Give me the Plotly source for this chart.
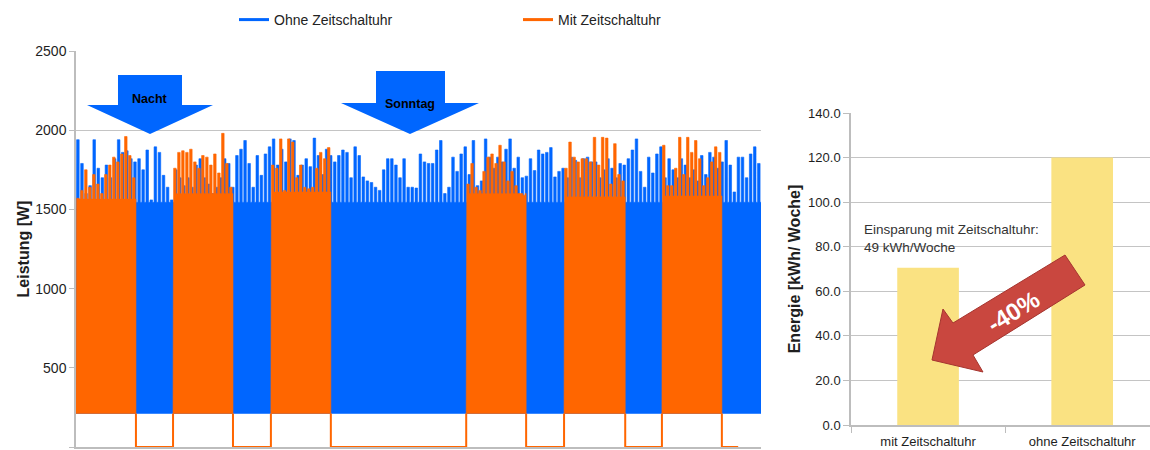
import plotly.graph_objects as go

# ---------------- data ----------------
week_hours = 168
standby_w = 212            # lower edge of the switching band [W]
blue_plateau = 1545        # solid upper level of the "ohne" band [W]

# hourly peak power, "Ohne Zeitschaltuhr" [W], one list per day
blue_d1 = [1940, 1790, 1600, 1650, 1940, 1760, 1700, 1780, 1700, 1820, 1940, 1860,
           1870, 1820, 1800, 1820, 1750, 1875, 1560, 1895, 1860, 1715, 1640, 1560]
blue_d2 = [1750, 1700, 1650, 1700, 1640, 1780, 1820, 1700, 1660, 1600, 1640, 1700,
           1820, 1790, 1640, 1840, 1880, 1935, 1790, 1640, 1840, 1715, 1850, 1895]
blue_d3 = [1945, 1780, 1880, 1800, 1945, 1935, 1715, 1780, 1820, 1770, 1950, 1840,
           1720, 1880, 1840, 1800, 1840, 1875, 1860, 1700, 1895, 1840, 1705, 1680]
blue_d4 = [1670, 1640, 1620, 1750, 1820, 1820, 1780, 1700, 1820, 1640, 1640, 1635,
           1850, 1800, 1790, 1790, 1875, 1935, 1600, 1640, 1830, 1740, 1850, 1895]
blue_d5 = [1720, 1935, 1650, 1680, 1945, 1830, 1760, 1830, 1800, 1880, 1945, 1760,
           1830, 1700, 1710, 1820, 1745, 1875, 1850, 1860, 1890, 1705, 1740, 1760]
blue_d6 = [1700, 1830, 1810, 1700, 1820, 1830, 1800, 1800, 1700, 1750, 1820, 1760,
           1700, 1790, 1780, 1820, 1875, 1945, 1740, 1640, 1830, 1730, 1850, 1895]
blue_d7 = [1700, 1820, 1750, 1700, 1820, 1780, 1700, 1750, 1680, 1840, 1720, 1860,
           1830, 1760, 1800, 1935, 1780, 1610, 1830, 1830, 1700, 1850, 1895, 1790]

# "Mit Zeitschaltuhr": switch-on / switch-off times [h] and peaks per on-period [W]
orange_on = [0.0, 23.8, 47.8, 95.7, 119.7, 143.7]
orange_off = [14.7, 38.5, 62.5, 110.4, 134.7, 158.4]
orange_end = 162.4
orange_plateau = [1565, 1600, 1610, 1600, 1580, 1585]
orange_s1 = [1570, 1620, 1750, 1640, 1720, 1660, 1600, 1720, 1780, 1830, 1800, 1850, 1960, 1840, 1700]
orange_s2 = [1760, 1860, 1870, 1860, 1880, 1800, 1760, 1840, 1830, 1780, 1850, 1730, 1980, 1790, 1640]
orange_s3 = [1780, 1760, 1945, 1620, 1945, 1925, 1700, 1780, 1640, 1630, 1640, 1760, 1860, 1820, 1890]
orange_s4 = [1660, 1790, 1640, 1620, 1740, 1830, 1850, 1790, 1905, 1800, 1680, 1740, 1650, 1600, 1590]
orange_s5 = [1760, 1925, 1830, 1800, 1820, 1820, 1800, 1955, 1780, 1955, 1950, 1660, 1915, 1720, 1680]
orange_s6 = [1905, 1650, 1650, 1760, 1955, 1720, 1955, 1860, 1935, 1820, 1650, 1700, 1800, 1895, 1860]

power_ticks = [0, 500, 1000, 1500, 2000, 2500]

bar_categories = ["mit Zeitschaltuhr", "ohne Zeitschaltuhr"]
bar_energy = [70.6, 120.0]

# ---------------- styling ----------------
W, H = 1150, 450
BLUE = "#0066FF"
ORANGE = "#FF6600"
GRID = "#C4C4C4"
AXIS = "#BDBDBD"
TXT = "#1e1e1e"
FONT = "Liberation Sans, Arial, sans-serif"

# plot areas in pixels (left, right, top, bottom)
L1 = (76, 761, 51, 447)
L2 = (851, 1150, 113, 425)


def X(px):
    return px / W


def Y(py):
    return 1 - py / H


def band(x0, x1, peaks, plateau, low):
    """Closed outline of a rapidly switching load: floor, plateau and spikes."""
    step = (x1 - x0) / len(peaks)
    xs, ys = [x0, x0], [low, plateau]
    for k, p in enumerate(peaks):
        a = x0 + k * step
        xs += [a + 0.15 * step, a + 0.15 * step, a + 0.78 * step, a + 0.78 * step]
        ys += [plateau, p, p, plateau]
    xs += [x1, x1, x0]
    ys += [plateau, low, low]
    return xs, ys


fig = go.Figure()

blue_peaks = blue_d1 + blue_d2 + blue_d3 + blue_d4 + blue_d5 + blue_d6 + blue_d7
bx, by = band(0, week_hours, blue_peaks, blue_plateau, standby_w)
fig.add_trace(go.Scatter(x=bx, y=by, mode="lines", fill="toself", fillcolor=BLUE,
                         line=dict(width=0.6, color=BLUE), showlegend=False,
                         hoverinfo="skip", xaxis="x", yaxis="y"))

orange_segments = [orange_s1, orange_s2, orange_s3, orange_s4, orange_s5, orange_s6]
ox, oy = [], []
for on, off, pl, seg in zip(orange_on, orange_off, orange_plateau, orange_segments):
    sx, sy = band(on, off, seg, pl, standby_w)
    ox += sx + [None]
    oy += sy + [None]
fig.add_trace(go.Scatter(x=ox, y=oy, mode="lines", fill="toself", fillcolor=ORANGE,
                         line=dict(width=0.6, color=ORANGE), showlegend=False,
                         hoverinfo="skip", xaxis="x", yaxis="y"))

# switched-off periods (0 W)
lx, ly = [], []
for i, off in enumerate(orange_off):
    nxt = orange_on[i + 1] if i + 1 < len(orange_on) else None
    if nxt is not None:
        lx += [off, off, nxt, nxt, None]
        ly += [standby_w, 0, 0, standby_w, None]
    else:
        lx += [off, off, orange_end, None]
        ly += [standby_w, 0, 0, None]
fig.add_trace(go.Scatter(x=lx, y=ly, mode="lines", line=dict(color=ORANGE, width=2),
                         showlegend=False, hoverinfo="skip", xaxis="x", yaxis="y"))

# legend entries
fig.add_trace(go.Scatter(x=[None], y=[None], mode="lines", name="Ohne Zeitschaltuhr",
                         line=dict(color=BLUE, width=3), xaxis="x", yaxis="y"))
fig.add_trace(go.Scatter(x=[None], y=[None], mode="lines", name="Mit Zeitschaltuhr",
                         line=dict(color=ORANGE, width=3), xaxis="x", yaxis="y"))

# energy bars
fig.add_trace(go.Bar(x=bar_categories, y=bar_energy, width=0.4,
                     marker=dict(color="#FAE282", line=dict(width=0)),
                     showlegend=False, hoverinfo="skip", xaxis="x2", yaxis="y2"))


def poly(points, area):
    """SVG path in subplot-domain units from pixel points of the reference."""
    l, r, t, b = area
    return "M " + " L ".join(f"{(a - l) / (r - l):.5f},{(b - c) / (b - t):.5f}"
                             for a, c in points) + " Z"


shapes = [
    dict(type="path", xref="x domain", yref="y domain", layer="above",
         path=poly([(118, 75), (182, 75), (182, 105), (213, 105), (150, 134), (87, 105), (118, 105)], L1),
         fillcolor=BLUE, line=dict(width=0)),
    dict(type="path", xref="x domain", yref="y domain", layer="above",
         path=poly([(376, 71), (445, 71), (445, 103), (479, 103), (410, 134), (341, 103), (376, 103)], L1),
         fillcolor=BLUE, line=dict(width=0)),
    dict(type="path", xref="x2 domain", yref="y2 domain", layer="above",
         path=poly([(1065, 255), (1085, 285), (973, 355), (983, 372), (932, 360), (943, 309), (953, 323)], L2),
         fillcolor="#C9473F", line=dict(width=1, color="#A5352F")),
]

annotations = [
    dict(xref="paper", yref="paper", x=X(150), y=Y(99), xanchor="center", yanchor="middle",
         text="<b>Nacht</b>", showarrow=False,
         font=dict(size=12.5, color="#000000", family=FONT)),
    dict(xref="paper", yref="paper", x=X(410), y=Y(104), xanchor="center", yanchor="middle",
         text="<b>Sonntag</b>", showarrow=False,
         font=dict(size=12.5, color="#000000", family=FONT)),
    dict(xref="paper", yref="paper", x=X(862), y=Y(220), xanchor="left", yanchor="top", align="left",
         text="Einsparung mit Zeitschaltuhr:<br>49 kWh/Woche", showarrow=False,
         font=dict(size=13.5, color="#333333", family=FONT)),
    dict(xref="paper", yref="paper", x=X(1013), y=Y(311), xanchor="center", yanchor="middle",
         text="<b>-40%</b>", showarrow=False,
         textangle=-31.6, font=dict(size=24, color="#FFFFFF", family=FONT)),
]

fig.update_layout(
    width=W, height=H,
    margin=dict(l=0, r=0, t=0, b=0, autoexpand=False),
    paper_bgcolor="white", plot_bgcolor="white",
    font=dict(family=FONT, color=TXT, size=14),
    showlegend=True,
    legend=dict(orientation="h", x=X(234), y=Y(20), xanchor="left", yanchor="middle",
                font=dict(size=14, color="#222222", family=FONT),
                entrywidth=239, entrywidthmode="pixels", bgcolor="rgba(0,0,0,0)"),
    xaxis=dict(domain=[X(L1[0]), X(L1[1])], range=[0, week_hours], showticklabels=False,
               ticks="", showgrid=False, zeroline=False, showline=True, automargin=False,
               linecolor=AXIS, linewidth=1.5, fixedrange=True),
    yaxis=dict(domain=[Y(L1[3]), Y(L1[2])], range=[0, 2500], tickvals=power_ticks,
               showgrid=True, gridcolor=GRID, gridwidth=1.3, zeroline=False, automargin=False,
               showline=True, linecolor=AXIS, linewidth=1.5, ticks="outside", ticklen=5,
               tickcolor=AXIS, tickfont=dict(size=14, color=TXT),
               title=dict(text="<b>Leistung [W]</b>", standoff=2,
                          font=dict(size=16, color=TXT)),
               fixedrange=True),
    xaxis2=dict(domain=[X(L2[0]), 1], anchor="y2", type="category", range=[-0.5, 1.44],
                showline=True, linecolor=AXIS, linewidth=1.5, ticks="outside", automargin=False,
                tickson="boundaries", ticklen=6, tickcolor=AXIS, ticklabelstandoff=4,
                tickfont=dict(size=13, color=TXT), showgrid=False, fixedrange=True),
    yaxis2=dict(domain=[Y(L2[3]), Y(L2[2])], anchor="x2", range=[0, 140], dtick=20,
                tickformat=".1f", showgrid=True, gridcolor=GRID, gridwidth=1.3, automargin=False,
                zeroline=False, showline=True, linecolor=AXIS, linewidth=1.5,
                ticks="outside", ticklen=6, tickcolor=AXIS,
                tickfont=dict(size=13, color=TXT),
                title=dict(text="<b>Energie [kWh/ Woche]</b>", standoff=4,
                           font=dict(size=16, color=TXT)),
                fixedrange=True),
    shapes=shapes,
    annotations=annotations,
)

fig.write_html("out.html", config={"displayModeBar": False},
               post_script="document.body.style.margin='0';")
